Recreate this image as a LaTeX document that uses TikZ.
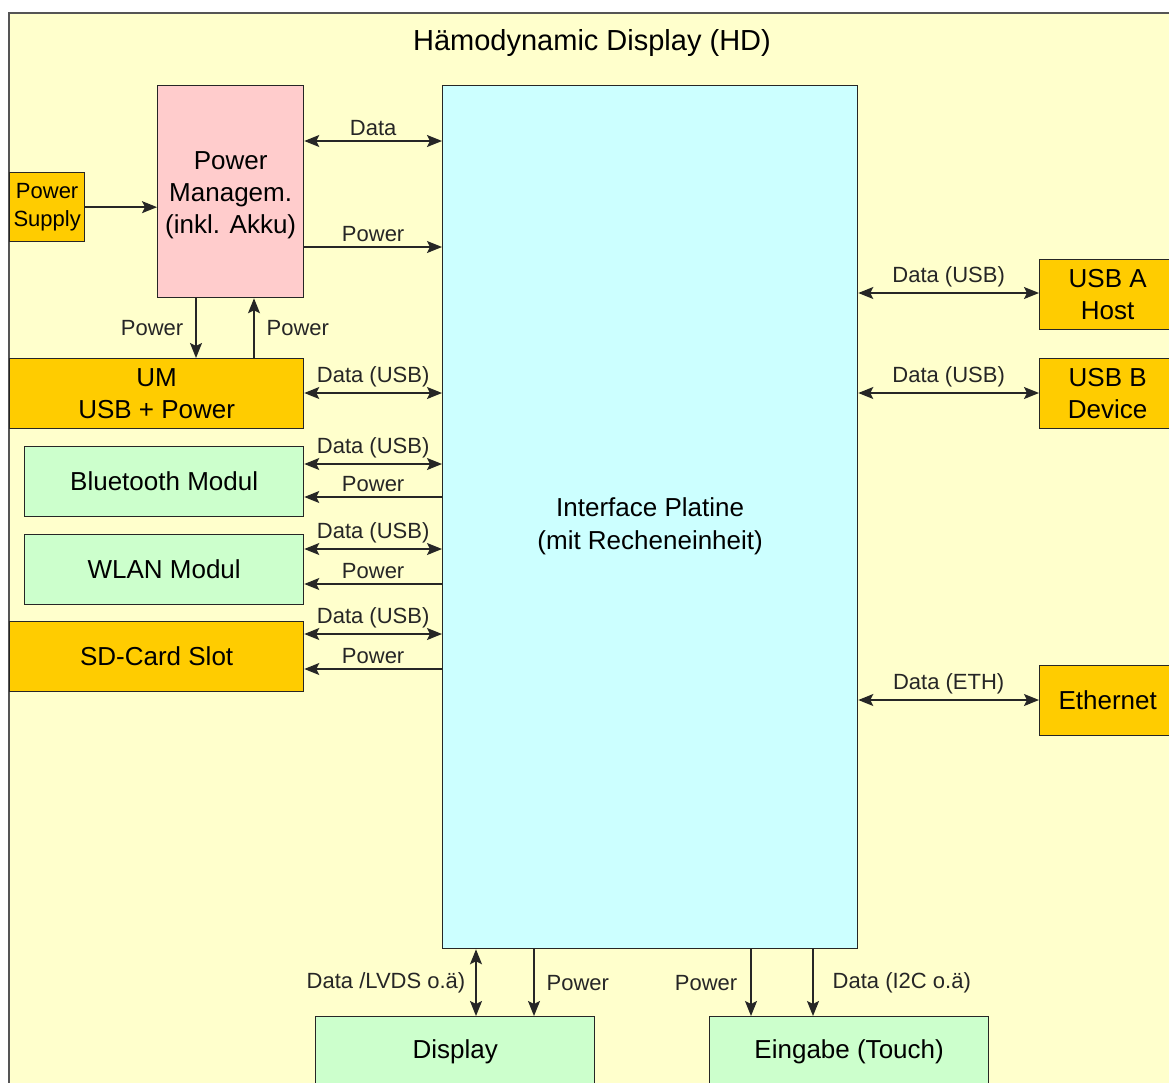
\documentclass[tikz,border=0pt]{standalone}
\usepackage{fontspec}
\setmainfont{Liberation Sans}
\usetikzlibrary{arrows.meta,positioning}
\definecolor{FrameFill}{HTML}{FFFFCC}
\definecolor{FrameLine}{HTML}{555555}
\definecolor{LineClr}{HTML}{262626}
\definecolor{CpuClr}{HTML}{CCFFFF}
\definecolor{PwrClr}{HTML}{FFCCCC}
\definecolor{PortClr}{HTML}{FFCC00}
\definecolor{ModClr}{HTML}{CCFFCC}
\tikzset{
  blk/.style={draw=LineClr, line width=1.3pt, align=center, inner sep=0pt,
    anchor=north west, font=\fontsize{26}{32}\selectfont},
  port/.style={blk, fill=PortClr},
  modul/.style={blk, fill=ModClr},
  lbl/.style={font=\fontsize{22}{26}\selectfont, text=LineClr},
  arr/.style={draw=LineClr, line width=1.4pt, -{Stealth[length=15pt,width=12pt,inset=3pt]}},
  biarr/.style={arr, {Stealth[length=15pt,width=12pt,inset=3pt]}-{Stealth[length=15pt,width=12pt,inset=3pt]}}
}
\begin{document}
\begin{tikzpicture}[x=1pt,y=-1pt]
\useasboundingbox (0,0) rectangle (1169,1082);
\clip (0,0) rectangle (1169,1082);
\fill[white] (0,0) rectangle (1169,1082);
% outer frame
\draw[draw=FrameLine, fill=FrameFill, line width=1.3pt] (9,13) rectangle (1185,1100);
\node[font=\fontsize{29}{34}\selectfont] (title) at (592,43) {Hämodynamic Display (HD)};
% blocks
\node[blk, fill=CpuClr, minimum width=415pt, minimum height=863pt,
  label={[align=center, font=\fontsize{26}{33}\selectfont, yshift=-9pt]center:Interface Platine\\(mit Recheneinheit)}] (ip) at (442,85) {};
\node[blk, fill=PwrClr, minimum width=146pt, minimum height=212pt,
  label={[align=center, font=\fontsize{26}{32}\selectfont, yshift=-4pt]center:Power\\Managem.\\(inkl. Akku)}] (pm) at (157,85) {};
\node[port, minimum width=75pt, minimum height=69pt, font=\fontsize{22}{28}\selectfont] (ps) at (9,172) {Power\\Supply};
\node[port, minimum width=294pt, minimum height=70pt] (um) at (9,358) {UM\\USB + Power};
\node[modul, minimum width=279pt, minimum height=70pt] (bt) at (24,446) {Bluetooth Modul};
\node[modul, minimum width=279pt, minimum height=70pt] (wlan) at (24,534) {WLAN Modul};
\node[port, minimum width=294pt, minimum height=70pt] (sd) at (9,621) {SD-Card Slot};
\node[port, minimum width=136pt, minimum height=70pt] (usba) at (1039,259) {USB A\\Host};
\node[port, minimum width=136pt, minimum height=70pt] (usbb) at (1039,358) {USB B\\Device};
\node[port, minimum width=136pt, minimum height=70pt] (eth) at (1039,665) {Ethernet};
\node[modul, minimum width=279pt, minimum height=70pt] (disp) at (315,1016) {Display};
\node[modul, minimum width=279pt, minimum height=70pt] (touch) at (709,1016) {Eingabe (Touch)};
% power management
\draw[arr] (ps.east) -- (pm.west |- ps.east);
\draw[biarr] (pm.east |- 0,141) -- node[lbl, above, inner sep=5pt] {Data} (ip.west |- 0,141);
\draw[arr] (pm.east |- 0,247) -- node[lbl, above, inner sep=5pt] {Power} (ip.west |- 0,247);
\draw[arr] (pm.south -| 196,0) -- node[lbl, left, inner sep=12pt] {Power} (um.north -| 196,0);
\draw[arr] (um.north -| 254,0) -- node[lbl, right, inner sep=12pt] {Power} (pm.south -| 254,0);
\draw[biarr] (um.east |- 0,393) -- node[lbl, above, inner sep=5pt] {Data (USB)} (ip.west |- 0,393);
% left modules
\foreach \m/\yd/\yp in {bt/464/497, wlan/549/584, sd/634/669} {
  \draw[biarr] (\m.east |- 0,\yd) -- node[lbl, above, inner sep=5pt] {Data (USB)} (ip.west |- 0,\yd);
  \draw[arr] (ip.west |- 0,\yp) -- node[lbl, above, inner sep=5pt] {Power} (\m.east |- 0,\yp);
}
% right ports
\foreach \m/\yd/\txt in {usba/293/Data (USB), usbb/393/Data (USB), eth/700/Data (ETH)} {
  \draw[biarr] (ip.east |- 0,\yd) -- node[lbl, above, inner sep=5pt] {\txt} (\m.west |- 0,\yd);
}
% display and input
\draw[biarr] (ip.south -| 476,0) -- node[lbl, left, inner sep=10pt] {Data /LVDS o.ä)} (disp.north -| 476,0);
\draw[arr] (ip.south -| 534,0) -- node[lbl, right, inner sep=12pt] {Power} (disp.north -| 534,0);
\draw[arr] (ip.south -| 751,0) -- node[lbl, left, inner sep=13pt] {Power} (touch.north -| 751,0);
\draw[arr] (ip.south -| 813,0) -- node[lbl, right, inner sep=19pt] {Data (I2C o.ä)} (touch.north -| 813,0);
\end{tikzpicture}
\end{document}
